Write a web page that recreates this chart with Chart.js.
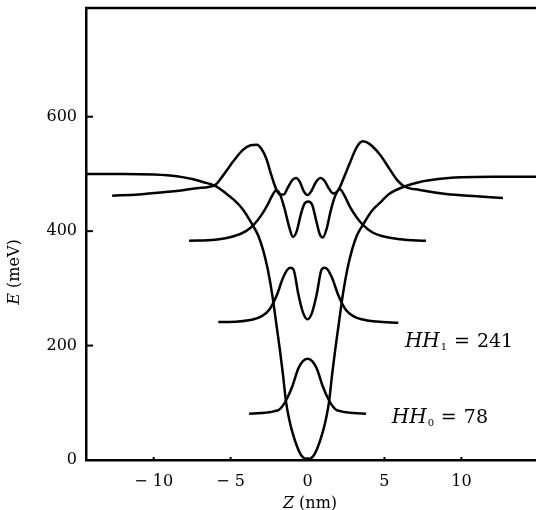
<!DOCTYPE html>
<html>
<head>
<meta charset="utf-8">
<script src="https://cdn.jsdelivr.net/npm/chart.js@4.4.0/dist/chart.umd.min.js"></script>
<style>
  html, body { margin: 0; padding: 0; background: #fff; }
  #wrap { width: 536px; height: 510px; }
</style>
</head>
<body>
<div id="wrap"><canvas id="c" width="536" height="510"></canvas></div>
<script>
// well potential, E (meV) against Z (nm)
const potZ = [-14.4, -12, -10, -8.5, -7.5, -6.8, -6, -5.3, -4.8, -4.2, -3.6, -3.2, -2.9, -2.6, -2.3, -2.0, -1.8, -1.6, -1.4, -1.2, -1.0, -0.7, -0.4, 0,
              0.4, 0.7, 1.0, 1.2, 1.4, 1.6, 1.8, 2.0, 2.3, 2.6, 2.9, 3.2, 3.6, 4.2, 4.8, 5.3, 6.3, 7.3, 8.5, 10, 12, 14.9];
const potE = [500, 500, 499, 496, 491, 486, 479, 466, 455, 438, 412, 392, 368, 335, 290, 232, 193, 150, 102, 72, 50, 25, 8, 1,
              8, 25, 50, 72, 102, 150, 193, 232, 290, 335, 368, 392, 411, 436, 452, 465, 478, 486, 491, 494, 495, 495];

// heavy-hole probability curves drawn on their levels
const hh0Z = [-3.8, -3, -2.2, -1.8, -1.4, -1.0, -0.6, -0.3, 0, 0.3, 0.6, 1.0, 1.4, 1.8, 2.2, 3, 3.8];
const hh0E = [81, 82, 85, 89, 104, 128, 160, 173, 177, 173, 160, 128, 104, 89, 85, 82, 81];

const hh1Z = [-5.8, -4.5, -3.5, -3, -2.5, -2, -1.6, -1.3, -1.1, -0.9, -0.6, -0.3, 0, 0.3, 0.6, 0.9, 1.1, 1.3, 1.6, 2, 2.5, 3, 3.5, 4.5, 5.9];
const hh1E = [241, 242, 246, 251, 262, 288, 318, 333, 336, 332, 290, 258, 246, 258, 290, 332, 336, 333, 318, 288, 262, 251, 246, 242, 240];

const hh2Z = [-7.7, -6, -4.8, -4, -3.5, -3, -2.6, -2.3, -2.05, -1.8, -1.5, -1.2, -0.95, -0.7, -0.45, -0.2, 0.05, 0.3, 0.55, 0.8, 1.0,
              1.25, 1.5, 1.8, 2.1, 2.4, 2.75, 3.2, 3.6, 4.2, 4.9, 6, 7.7];
const hh2E = [383, 385, 391, 400, 411, 428, 446, 462, 471, 465, 440, 408, 390, 400, 428, 448, 452, 446, 420, 394, 389,
              405, 435, 462, 473, 462, 443, 424, 411, 398, 391, 386, 383];

const hh3Z = [-12.7, -11, -9.4, -8, -7.2, -6, -5.5, -4.8, -4.2, -3.7, -3.3, -3.0, -2.67, -2.4, -2.2, -2.0, -1.8, -1.55, -1.3, -1.0, -0.75,
              -0.5, -0.25, 0, 0.25, 0.55, 0.85, 1.1, 1.4, 1.65, 1.9, 2.1, 2.4, 2.75, 3.2, 3.6, 4.0, 4.7, 5.3, 5.8, 6.3, 7.3, 9, 11, 12.7];
const hh3E = [462, 464, 468, 472, 475, 481, 497, 523, 542, 550, 551, 544, 526, 502, 485, 471, 464, 464, 475, 489, 493,
              486, 470, 463, 470, 486, 493, 488, 474, 466, 468, 477, 496, 519, 547, 557, 553, 534, 510, 490, 478, 472, 465, 461, 458];

// axis ticks and level labels
const xTicks = [-10, -5, 0, 5, 10];
const yTicks = [0, 200, 400, 600];
const levelNames = ['HH', 'HH'];
const levelSubs = ['1', '0'];
const levelValues = [241, 78];
const levelAt = [[6.33, 198], [5.48, 65]];

function pts(zs, es) {
  return zs.map((z, i) => ({ x: z, y: es[i] }));
}

function curve(data) {
  return {
    data: data,
    showLine: true,
    borderColor: '#000',
    borderWidth: 2.5,
    pointRadius: 0,
    cubicInterpolationMode: 'monotone',
    fill: false
  };
}

const serif = 'DejaVu Serif';

// frame top line, inward tick marks, axis titles and level labels
const extras = {
  id: 'extras',
  afterDraw(chart) {
    const ctx = chart.ctx;
    const a = chart.chartArea;
    const xs = chart.scales.x;
    const ys = chart.scales.y;
    ctx.save();
    ctx.strokeStyle = '#000';
    ctx.lineWidth = 2.5;
    ctx.beginPath();
    ctx.moveTo(a.left - 1, a.top);
    ctx.lineTo(a.right, a.top);
    ctx.stroke();

    ctx.lineWidth = 2;
    yTicks.forEach(v => {
      if (v === 0) return;
      const py = ys.getPixelForValue(v);
      ctx.beginPath();
      ctx.moveTo(a.left, py);
      ctx.lineTo(a.left + 7, py);
      ctx.stroke();
    });
    xTicks.forEach(v => {
      const px = xs.getPixelForValue(v);
      ctx.beginPath();
      ctx.moveTo(px, a.bottom);
      ctx.lineTo(px, a.bottom - 3);
      ctx.stroke();
    });

    ctx.fillStyle = '#000';
    ctx.textBaseline = 'alphabetic';

    // x title
    ctx.font = 'italic 16px "' + serif + '"';
    const zW = ctx.measureText('Z').width;
    ctx.font = '16px "' + serif + '"';
    const restW = ctx.measureText(' (nm)').width;
    let tx = 310 - (zW + restW) / 2;
    ctx.font = 'italic 16px "' + serif + '"';
    ctx.fillText('Z', tx, 508);
    ctx.font = '16px "' + serif + '"';
    ctx.fillText(' (nm)', tx + zW, 508);

    // y title
    ctx.save();
    ctx.translate(19, 272);
    ctx.rotate(-Math.PI / 2);
    ctx.font = 'italic 16px "' + serif + '"';
    const eW = ctx.measureText('E').width;
    ctx.font = '16px "' + serif + '"';
    const mW = ctx.measureText(' (meV)').width;
    const sx = -(eW + mW) / 2;
    ctx.font = 'italic 16px "' + serif + '"';
    ctx.fillText('E', sx, 0);
    ctx.font = '16px "' + serif + '"';
    ctx.fillText(' (meV)', sx + eW, 0);
    ctx.restore();

    // level labels
    levelNames.forEach((name, i) => {
      const x0 = xs.getPixelForValue(levelAt[i][0]);
      const py = ys.getPixelForValue(levelAt[i][1]);
      ctx.font = 'italic 20px "' + serif + '"';
      ctx.fillText(name, x0, py);
      const hw = ctx.measureText(name).width;
      ctx.font = '10px "' + serif + '"';
      ctx.fillText(levelSubs[i], x0 + hw + 1, py + 3);
      ctx.font = '19px "' + serif + '"';
      ctx.fillText('=', x0 + 49, py);
      ctx.fillText(String(levelValues[i]), x0 + 72, py);
    });
    ctx.restore();
  }
};

new Chart(document.getElementById('c'), {
  type: 'scatter',
  data: {
    datasets: [
      curve(pts(potZ, potE)),
      curve(pts(hh0Z, hh0E)),
      curve(pts(hh1Z, hh1E)),
      curve(pts(hh2Z, hh2E)),
      curve(pts(hh3Z, hh3E))
    ]
  },
  options: {
    responsive: false,
    animation: false,
    layout: { padding: { top: 8, right: 0, left: 0, bottom: 0 } },
    plugins: { legend: { display: false }, tooltip: { enabled: false } },
    scales: {
      x: {
        type: 'linear',
        min: -14.4,
        max: 14.85,
        afterFit(s) { s.height = 50; s.paddingLeft = 0; s.paddingRight = 0; },
        afterBuildTicks(s) { s.ticks = xTicks.map(v => ({ value: v })); },
        grid: { display: false, drawTicks: false },
        border: { display: true, color: '#000', width: 2.5 },
        ticks: {
          padding: 12,
          color: '#000',
          font: { family: serif, size: 16 },
          callback: v => v < 0 ? '\u2212 ' + Math.abs(v) : String(v)
        }
      },
      y: {
        type: 'linear',
        min: 0,
        max: 790,
        afterFit(s) { s.width = 86; s.paddingTop = 0; s.paddingBottom = 0; },
        afterBuildTicks(s) { s.ticks = yTicks.map(v => ({ value: v })); },
        grid: { display: false, drawTicks: false },
        border: { display: true, color: '#000', width: 2.5 },
        ticks: {
          padding: 9,
          color: '#000',
          font: { family: serif, size: 16 }
        }
      }
    }
  },
  plugins: [extras]
});
</script>
</body>
</html>
